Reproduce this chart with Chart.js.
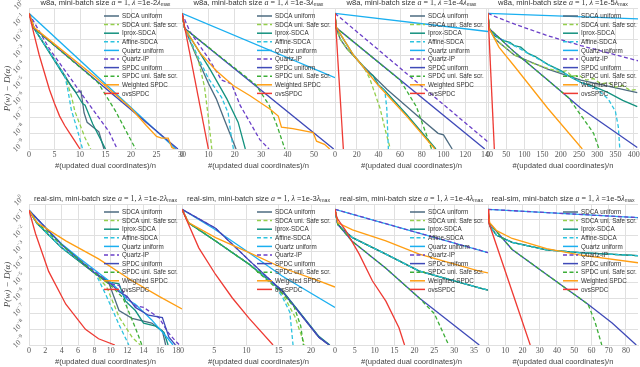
<!DOCTYPE html>
<html>
<head>
<meta charset="utf-8">
<script src="https://cdn.jsdelivr.net/npm/chart.js@4.4.0/dist/chart.umd.min.js"></script>
<style>
  html, body { margin: 0; padding: 0; background: #fff; width: 640px; height: 367px; overflow: hidden; position: relative; }
  canvas { position: absolute; }
</style>
</head>
<body>
<script>
// Duality gap P(w) - D(a) vs. passes over data, w8a (top) and real-sim (bottom)
// Each series: [x, log10(gap)] breakpoints

const SERIES = ['SDCA uniform', 'SDCA uni. Safe scr.', 'Iprox-SDCA', 'Affine-SDCA', 'Quartz uniform',
  'Quartz-IP', 'SPDC uniform', 'SPDC uni. Safe scr.', 'Weighted SPDC', 'ovsSPDC'];
const COLORS = ['#4d6b80', '#94cf4c', '#13917e', '#2cc3df', '#1aaff0',
  '#6a3fc8', '#3f4ab8', '#3dae38', '#ff9e12', '#ee3a33'];
const DASHED = [false, true, false, true, false, true, false, true, false, false];
const DECADES = [1, 1e-1, 1e-2, 1e-3, 1e-4, 1e-5, 1e-6, 1e-7, 1e-8, 1e-9];

// ── w8a ──
const W8A_2 = [
  [[0,-0.34],[1,-1.3],[7,-4.3],[8.3,-5.0],[9.2,-5.4],[10.2,-5.3],[10.8,-6.7],[11.4,-7.3],[13.7,-7.9],[14.7,-9]],
  [[0,-0.34],[1,-1.3],[7,-4.3],[8.3,-5.6],[9,-6.6],[11,-8.3],[12.1,-9]],
  [[0,-0.34],[1,-1.3],[7,-4.4],[9,-5.3],[10.5,-6.1],[11,-6.2],[12.5,-7.4],[15,-9]],
  [[0,-0.34],[1,-1.3],[7,-4.3],[7.6,-5.2],[8.3,-6.5],[9.5,-7.8],[10.5,-9]],
  [[0,-0.34],[28.8,-9]],
  [[0,-0.34],[4,-2.6],[11,-5.8],[15.7,-7.9],[17.3,-9]],
  [[0,-0.34],[1,-1.3],[29.2,-9]],
  [[0,-0.34],[1,-1.3],[13.5,-4.75],[17,-6.6],[20.9,-9]],
  [[0,-0.34],[1,-1.25],[13,-4.4],[20,-6.4],[23,-7.5],[25,-8.2],[26,-8.3],[27.3,-8.3],[28,-8.9],[28.6,-9]],
  [[0,-0.34],[1,-1.7],[2,-3],[3,-4.1],[4,-5.2],[5,-6.1],[6,-6.9],[7,-7.5],[8,-8],[9,-8.5],[10,-9]],
];
const W8A_3 = [
  [[0,-0.34],[1,-1.3],[5,-2.9],[10,-4.8],[13,-5.8],[16,-7.1],[20.5,-9]],
  [[0,-0.34],[1,-1.3],[6,-3.2],[8.5,-5],[10,-7],[11.3,-9]],
  [[0,-0.34],[1,-1.3],[10.6,-3.9],[17,-5.8],[21.3,-7.3],[24,-9]],
  [[0,-0.34],[1,-1.3],[10,-4.5],[15,-5.7],[17.5,-6.7],[18.5,-8],[19.5,-9]],
  [[0,-0.34],[58,-4.45]],
  [[0,-0.34],[3,-1.5],[10,-3.2],[15,-4.6],[18.8,-4.85],[22,-6.2],[29.5,-8.4],[33,-9]],
  [[0,-0.34],[1,-1.3],[57.5,-9]],
  [[0,-0.34],[1,-1.3],[28,-4.9],[33,-6.2],[36,-7.5],[39,-9]],
  [[0,-0.34],[1,-1.3],[7,-2.9],[13,-4],[19.4,-4.95],[25.8,-5.6],[33.3,-6.45],[36.5,-6.9],[37.7,-7.6],[42,-7.7],[49.7,-7.95],[51,-8.5],[54,-8.7],[56,-9]],
  [[0,-0.34],[10,-9]],
];
const W8A_4 = [
  [[0,-0.34],[1,-1.3],[5,-2],[11,-2.6],[26,-3.7],[48,-5.2],[78,-7],[95,-8],[100,-8.1],[108,-9]],
  [[0,-0.34],[1,-1.3],[5,-2],[11,-2.6],[26,-3.7],[32,-4.5],[41.5,-6.4],[46,-7.7],[51,-9]],
  [[0,-0.34],[1,-1.25],[17,-3],[30,-4.1],[35,-4.3],[40,-4.9],[45,-5.2],[66,-6.8],[93,-9]],
  [[0,-0.34],[1,-1.25],[17,-3],[40,-4.9],[46,-5.3],[47.7,-6.4],[49.2,-9]],
  [[0,-0.34],[141,-1.5]],
  [[0,-0.34],[141,-8.55]],
  [[0,-0.34],[1,-1.25],[138,-9]],
  [[0,-0.34],[1,-1.25],[60,-4.6],[75,-6.3],[89,-9]],
  [[0,-0.34],[1,-1.2],[17,-3],[40,-4.95],[66,-6.9],[92,-9]],
  [[0,-0.34],[7.7,-9]],
];
const W8A_5 = [
  [[0,-0.34],[3,-1.3],[20,-2],[72,-3],[164,-3.9],[255,-4.6],[410,-5.4]],
  [[0,-0.34],[3,-1.3],[20,-2],[72,-3],[120,-3.5],[164,-3.85],[200,-4.1],[215,-4],[230,-4.35],[250,-4.3],[270,-4.6],[290,-4.5],[310,-4.85],[330,-4.75],[350,-5.05],[370,-4.95],[390,-5.25],[410,-5.2]],
  [[0,-0.34],[3,-1.3],[20,-1.8],[45,-2.1],[60,-2.2],[72,-2.4],[90,-2.5],[110,-2.9],[130,-3.1],[164,-3.6],[200,-4],[230,-4.45],[255,-4.75],[290,-5],[330,-5.4],[370,-5.9],[410,-6.3]],
  [[0,-0.34],[3,-1.3],[20,-1.8],[72,-2.4],[164,-3.6],[255,-4.75],[300,-5.2],[330,-5.8],[350,-6.6],[358,-7.6],[362,-9]],
  [[0,-0.34],[412,-0.7]],
  [[0,-0.34],[20,-0.55],[72,-1.02],[164,-1.77],[255,-2.4],[412,-3.37]],
  [[0,-0.34],[3,-1.3],[72,-2.8],[164,-4.6],[255,-6.4],[410,-8.9]],
  [[0,-0.34],[3,-1.3],[72,-2.8],[164,-4.6],[220,-5.7],[260,-7],[290,-8],[305,-9]],
  [[0,-0.34],[3,-1.3],[30,-2.5],[72,-3.7],[164,-6.4],[259,-9]],
  [[0,-0.34],[17.4,-9]],
];

// ── real-sim ──
const RS_2 = [
  [[0,-0.4],[1,-1.25],[4,-2.8],[8,-4.4],[9.8,-5.1],[11,-6.8],[12.6,-7.3],[15,-7.6],[16.3,-8.1],[16.7,-9]],
  [[0,-0.4],[1,-1.25],[4,-2.8],[8,-4.4],[9.5,-5.3],[11,-7.2],[12.6,-8.5],[13.6,-9]],
  [[0,-0.4],[1,-1.25],[4,-2.8],[8,-4.4],[10,-5],[11,-5.1],[11.8,-6.2],[13,-6.8],[14,-7.6],[15.5,-7.8],[16.5,-8.2],[17,-9]],
  [[0,-0.4],[1,-1.25],[4,-2.8],[8,-4.3],[9.4,-5.8],[11,-7.7],[12.2,-9]],
  [[0,-0.4],[2,-1.5],[4,-2.55],[6,-3.4],[8,-4.2],[9,-4.6],[10,-5],[11,-5.5],[12,-6.1],[13,-6.4],[14,-6.9],[15,-7.4],[16,-8],[17,-8.6],[17.6,-9]],
  [[0,-0.4],[2,-1.5],[4,-2.6],[6,-3.5],[8,-4.3],[10,-5.1],[11,-5.2],[12,-6],[13,-6.5],[14,-6.6],[15.9,-7.26],[17,-8.2],[17.9,-8.74],[18.4,-9]],
  [[0,-0.4],[2,-1.5],[4,-2.6],[6,-3.5],[8,-4.4],[10,-5.1],[11,-5.6],[12,-5.9],[13,-6.6],[14.6,-7.1],[16.3,-7.25],[17.1,-8.5],[17.9,-9]],
  [[0,-0.4],[1,-1.2],[4,-2.6],[8,-4.4],[10,-5.2],[11.5,-6],[13,-7.9],[13.8,-9]],
  [[0,-0.4],[1,-1.2],[4.5,-2.35],[8.5,-3.5],[12.6,-4.9],[15.9,-5.9],[18.7,-6.7]],
  [[0,-0.4],[0.8,-1.9],[2.4,-4.3],[4.5,-6.4],[6.9,-8],[8.5,-8.6],[10.5,-9]],
];
const RS_3 = [
  [[0,-0.34],[1,-1.2],[5.2,-2.36],[10.4,-3.85],[15.5,-5.55],[21.2,-8.5],[22.8,-9]],
  [[0,-0.34],[1,-1.2],[5.2,-2.36],[10.4,-3.85],[15,-5.4],[16.2,-6.2],[17.5,-7.2],[19,-9]],
  [[0,-0.34],[1,-1.2],[5.2,-2.36],[10.4,-3.85],[15.5,-5.5],[21.2,-8.45],[22.9,-9]],
  [[0,-0.34],[1,-1.2],[5.2,-2.36],[10.4,-3.85],[14,-5],[15.5,-5.9],[16.7,-6.9],[17.2,-9]],
  [[0,-0.34],[5,-1.6],[10,-3],[15.5,-4.6],[23.7,-6.6]],
  [[0,-0.34],[5.2,-1.55],[10.4,-3.6],[13,-4.6],[15.5,-5.55],[21.2,-8.5],[22.8,-9]],
  [[0,-0.34],[5.2,-1.55],[10.4,-3.6],[13,-4.6],[15.5,-5.55],[21.2,-8.5],[22.8,-9]],
  [[0,-0.34],[1,-1.2],[5.2,-2.36],[10.4,-3.85],[15.8,-5.8],[17.4,-6.6],[18.4,-7.8],[18.8,-9]],
  [[0,-0.34],[1,-1.19],[5.2,-2.15],[10.4,-3.1],[15.5,-4.07],[21.2,-4.91],[23.7,-5.3]],
  [[0,-0.34],[1,-1.3],[2.6,-2.8],[5.2,-4.5],[7.8,-6],[10.4,-7.3],[14.1,-9]],
];
const RS_4 = [
  [[0,-0.34],[0.7,-1.3],[4.4,-2.15],[12.8,-3.2],[21.2,-4.28],[36.3,-5.35],[38.5,-5.5]],
  [[0,-0.34],[0.7,-1.3],[4.4,-2.15],[12.8,-3.2],[21.2,-4.28],[36.3,-5.35],[38.5,-5.5]],
  [[0,-0.34],[0.7,-1.3],[4.4,-2.15],[12.8,-3.2],[21.2,-4.28],[36.3,-5.35],[38.5,-5.5]],
  [[0,-0.34],[0.7,-1.3],[4.4,-2.15],[12.8,-3.2],[21.2,-4.28],[36.3,-5.35],[38.5,-5.5]],
  [[0,-0.34],[38.5,-3.1]],
  [[0,-0.34],[38.5,-3.1]],
  [[0,-0.34],[0.7,-1.3],[4.4,-2.4],[12.8,-4.1],[21.2,-6],[36.3,-9]],
  [[0,-0.34],[0.7,-1.3],[4.4,-2.4],[12.8,-4.1],[21.2,-6],[25,-7],[28.6,-9]],
  [[0,-0.34],[0.7,-1.2],[4.4,-1.65],[12.8,-2.36],[21.2,-3.2],[36.3,-4.28],[38.5,-4.4]],
  [[0,-0.34],[0.5,-0.9],[2.7,-1.7],[6.1,-3.2],[9.4,-4.9],[12.8,-6.2],[16.1,-7.9],[17.5,-9]],
];
const RS_5 = [
  [[0,-0.34],[1,-1.4],[5,-2],[14,-2.45],[34,-2.93],[53,-3.1],[87,-3.3]],
  [[0,-0.34],[1,-1.4],[5,-2],[14,-2.45],[34,-2.93],[53,-3.1],[87,-3.3]],
  [[0,-0.34],[1,-1.4],[5,-2],[14,-2.45],[34,-2.93],[53,-3.1],[87,-3.3]],
  [[0,-0.34],[1,-1.4],[5,-2],[14,-2.45],[34,-2.93],[53,-3.1],[87,-3.3]],
  [[0,-0.34],[87,-0.87]],
  [[0,-0.34],[87,-0.87]],
  [[0,-0.34],[0.6,-1.2],[14,-2.9],[34,-4.5],[58,-6.4],[72,-7.6],[86,-9]],
  [[0,-0.34],[0.6,-1.2],[14,-2.9],[34,-4.5],[58,-6.4],[62,-7.5],[66,-9]],
  [[0,-0.34],[1,-1.2],[5,-1.7],[14,-2.2],[34,-2.85],[53,-3.25],[87,-3.75]],
  [[0,-0.34],[0.5,-1.2],[24.5,-9]],
];

const PANELS = [
  { set: 'w8a', lam: '1e-2', series: W8A_2, xmax: 30, step: 5 },
  { set: 'w8a', lam: '1e-3', series: W8A_3, xmax: 58, step: 10 },
  { set: 'w8a', lam: '1e-4', series: W8A_4, xmax: 141, step: 20 },
  { set: 'w8a', lam: '1e-5', series: W8A_5, xmax: 412, step: 50 },
  { set: 'real-sim', lam: '1e-2', series: RS_2, xmax: 18.7, step: 2 },
  { set: 'real-sim', lam: '1e-3', series: RS_3, xmax: 23.7, step: 5 },
  { set: 'real-sim', lam: '1e-4', series: RS_4, xmax: 38.5, step: 5 },
  { set: 'real-sim', lam: '1e-5', series: RS_5, xmax: 87, step: 10 },
];

// ── Layout (page pixels of each plot box) ──
const ROW_TOP = [8, 204];
const COL_LEFT = [29, 182, 335, 488];
const COL_W = [153, 153, 153, 150];
const PLOT_H = 141;

const SANS = '"Liberation Sans", Arial, sans-serif';
const SERIF = '"Liberation Serif", "Times New Roman", serif';
const GRID = '#e0e0e0';
const INK = '#333';

// draw a run of differently styled text pieces
function drawRuns(ctx, runs, x, y, align) {
  let w = 0;
  runs.forEach(r => { ctx.font = r.f; w += ctx.measureText(r.t).width; });
  let cx = align === 'center' ? x - w / 2 : x;
  ctx.textAlign = 'left';
  ctx.textBaseline = 'middle';
  runs.forEach(r => {
    ctx.font = r.f;
    ctx.fillText(r.t, cx, y + (r.dy || 0));
    cx += ctx.measureText(r.t).width;
  });
}

const decor = {
  id: 'decor',
  beforeDraw(chart) {
    const { ctx, chartArea: a } = chart;
    ctx.save();
    ctx.fillStyle = '#fff';
    ctx.fillRect(a.left, a.top, a.right - a.left, a.bottom - a.top);
    ctx.restore();
  },
  afterDatasetsDraw(chart) {
    // legend inside the plot box
    const { ctx, chartArea: a } = chart;
    ctx.save();
    chart.data.datasets.forEach((ds, i) => {
      const y = a.top + 8 + i * 8.6;
      ctx.strokeStyle = ds.borderColor;
      ctx.lineWidth = 1.5;
      ctx.setLineDash(ds.borderDash);
      ctx.beginPath();
      ctx.moveTo(a.left + 75, y);
      ctx.lineTo(a.left + 90, y);
      ctx.stroke();
      ctx.setLineDash([]);
      ctx.fillStyle = INK;
      ctx.font = '6.3px ' + SANS;
      ctx.textAlign = 'left';
      ctx.textBaseline = 'middle';
      ctx.fillText(ds.label, a.left + 93, y + 0.5);
    });
    ctx.restore();
  },
  afterDraw(chart, args, o) {
    const { ctx, chartArea: a } = chart;
    ctx.save();
    ctx.fillStyle = INK;
    drawRuns(ctx, [
      { t: o.set + ', mini-batch size ', f: '7.6px ' + SANS },
      { t: 'a', f: 'italic 8px ' + SERIF },
      { t: ' = 1, ', f: '8px ' + SERIF },
      { t: 'λ', f: 'italic 8px ' + SERIF },
      { t: ' =' + o.lam, f: '7.6px ' + SANS },
      { t: 'λ', f: 'italic 8px ' + SERIF },
      { t: 'max', f: '5.2px ' + SANS, dy: 2 },
    ], (a.left + a.right) / 2, a.top - 5, 'center');

    if (o.yLabels) {
      const y = chart.scales.y;
      ctx.fillStyle = '#555';
      DECADES.forEach((v, k) => {
        const py = y.getPixelForValue(v);
        ctx.save();
        ctx.translate(a.left - 10, py - 3);
        ctx.rotate(-Math.PI / 4);
        drawRuns(ctx, [
          { t: '10', f: '7.6px ' + SERIF },
          { t: k === 0 ? '0' : '−' + k, f: '5.4px ' + SERIF, dy: -3 },
        ], 0, 0, 'center');
        ctx.restore();
      });
      ctx.save();
      ctx.translate(8, (a.top + a.bottom) / 2 + 10);
      ctx.rotate(-Math.PI / 2);
      ctx.fillStyle = '#444';
      drawRuns(ctx, [{ t: 'P(w) − D(α)', f: 'italic 9px ' + SERIF }], 0, 0, 'center');
      ctx.restore();
    }
    ctx.restore();
  },
};

function makePanel(p, idx) {
  const row = idx >> 2, col = idx & 3;
  const padL = col === 0 ? COL_LEFT[0] : 12;
  const padR = 12;
  const padT = row === 0 ? ROW_TOP[0] : 14;
  const padB = 22;
  const w = COL_W[col];

  const cv = document.createElement('canvas');
  cv.width = w + padL + padR;
  cv.height = PLOT_H + padT + padB;
  cv.style.left = (COL_LEFT[col] - padL) + 'px';
  cv.style.top = (ROW_TOP[row] - padT) + 'px';
  cv.style.width = cv.width + 'px';
  cv.style.height = cv.height + 'px';
  document.body.appendChild(cv);

  const tickFont = { family: SERIF, size: 8 };

  return new Chart(cv, {
    type: 'line',
    data: {
      datasets: p.series.map((pts, k) => ({
        label: SERIES[k],
        data: pts.map(([x, e]) => ({ x, y: Math.pow(10, e) })),
        borderColor: COLORS[k],
        borderWidth: 1.3,
        borderDash: DASHED[k] ? [4, 2.5] : [],
        pointRadius: 0,
        fill: false,
        tension: 0,
        order: SERIES.length - k,
      })),
    },
    options: {
      responsive: false,
      animation: false,
      devicePixelRatio: 1,
      layout: { padding: { left: padL, right: padR, top: padT, bottom: 0 } },
      plugins: {
        legend: { display: false },
        tooltip: { enabled: false },
        decor: { set: p.set, lam: p.lam, yLabels: col === 0 },
      },
      scales: {
        x: {
          type: 'linear', min: 0, max: p.xmax,
          ticks: { stepSize: p.step, includeBounds: false, autoSkip: false, maxRotation: 0, padding: 1.5, font: tickFont, color: '#555' },
          grid: { color: GRID, drawTicks: false },
          border: { color: GRID },
          title: { display: true, text: '#(updated dual coordinates)/n', font: { family: SANS, size: 7.6 }, color: '#444', padding: { top: 0, bottom: 0.5 } },
          afterFit: s => { s.height = padB; s.paddingLeft = 0; s.paddingRight = 0; },
        },
        y: {
          type: 'logarithmic', min: 1e-9, max: 1,
          ticks: { display: false },
          grid: { color: GRID, drawTicks: false },
          border: { color: GRID },
          afterBuildTicks: s => { s.ticks = DECADES.map(v => ({ value: v })); },
          afterFit: s => { s.width = 0; s.paddingTop = 0; s.paddingBottom = 0; },
        },
      },
    },
    plugins: [decor],
  });
}

PANELS.forEach(makePanel);
</script>
</body>
</html>
